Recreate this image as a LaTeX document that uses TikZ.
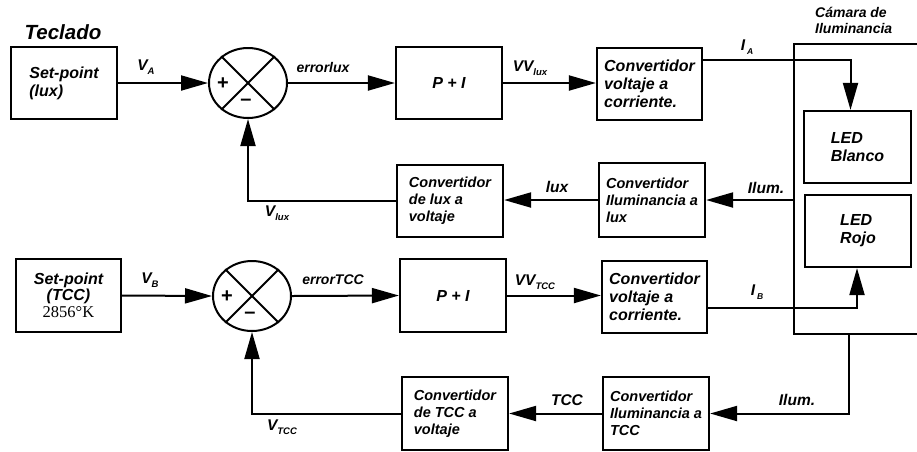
\documentclass[tikz,border=0pt]{standalone}
\usepackage{fontspec}
\setmainfont{Liberation Sans}
\newfontfamily\serifnum{Liberation Serif}
\usetikzlibrary{arrows.meta,shapes.geometric}

% subscript set lower and smaller, as in the labels of the loop signals
\newcommand\lsub[1]{\raisebox{-3.5pt}{\fontsize{9.5}{9.5}\selectfont #1}}

\tikzset{
  blk/.style={draw, line width=2.2pt, align=left, inner sep=0pt,
    font=\bfseries\itshape\fontsize{16}{18}\selectfont},
  blks/.style={blk, font=\bfseries\itshape\fontsize{14.5}{17}\selectfont},
  sumj/.style={draw, ellipse, line width=2pt, inner sep=0pt,
    minimum width=78pt, minimum height=70pt},
  sgn/.style={font=\bfseries\fontsize{20}{20}\selectfont, inner sep=0pt},
  wire/.style={line width=2pt},
  arr/.style={wire, -{Triangle[length=27pt,width=15pt]}},
  lbl/.style={inner sep=0pt, font=\bfseries\itshape\fontsize{15.5}{17}\selectfont},
  lbls/.style={inner sep=0pt, font=\bfseries\itshape\fontsize{14}{16}\selectfont},
}

\begin{document}
\begin{tikzpicture}[x=1pt, y=-1pt]
\useasboundingbox (0,0) rectangle (917,451);

% ---------- lux loop ----------
\node[lbl, font=\bfseries\itshape\fontsize{20.5}{24}\selectfont] (tec) at (63,32) {Teclado};
\node[blk, minimum width=106pt, minimum height=72pt] (spA) at (64,83) {Set-point\\(lux)};
\node[sumj] (sA) at (248,83) {};
\draw[wire] (sA.135) -- (sA.-45);
\draw[wire] (sA.45) -- (sA.-135);
\node[sgn] (pA) at (223,84) {+};
\node[sgn] (mA) at (246,102) {--};
\node[blk, minimum width=106pt, minimum height=72pt, align=center] (piA) at (449,83) {P + I};
\node[blk, minimum width=105pt, minimum height=72pt] (cvA) at (649.5,84) {Convertidor\\voltaje a\\corriente.};

\node[draw, line width=2.2pt, anchor=north west, minimum width=140pt, minimum height=290pt] (cam) at (793,43) {};
\node[lbls, align=left, anchor=west] (camt) at (815,20) {Cámara de\\Iluminancia};
\node[blk, minimum width=107pt, minimum height=72pt] (ledb) at (857.5,147) {LED\\Blanco};
\node[blk, minimum width=106pt, minimum height=72pt] (ledr) at (858,231) {LED\\Rojo};

\node[blks, minimum width=106pt, minimum height=74pt] (ilA) at (652,200) {Convertidor\\Iluminancia a\\lux};
\node[blks, minimum width=106pt, minimum height=72pt] (lvA) at (450,201) {Convertidor\\de lux a\\voltaje};

\draw[arr] (spA.east) -- (sA.west);
\draw[arr] (sA.east) -- (piA.west);
\draw[arr] (piA.east) -- (piA.east -| cvA.west);
\draw[arr] ([yshift=24pt]cvA.east) -| ([xshift=-7pt]ledb.north);
\draw[arr] (cam.west |- ilA.east) -- (ilA.east);
\draw[arr] (ilA.west) -- (ilA.west -| lvA.east);
\draw[arr] (lvA.west) -| (sA.south);

\node[lbl] (lVA) at (146,67) {V\lsub{A}};
\node[lbls] (lerrA) at (323,67) {errorlux};
\node[lbl] (lVVA) at (530,68) {VV\lsub{lux}};
\node[lbl] (lIA) at (747,47) {I\hspace{2pt}\lsub{\fontsize{8.5}{8.5}\selectfont A}};
\node[lbl] (llux) at (557,187) {lux};
\node[lbl] (lilA) at (766,188) {Ilum.};
\node[lbl] (lVlux) at (277,213) {V\lsub{lux}};

% ---------- TCC loop ----------
\node[blk, minimum width=105pt, minimum height=73pt, align=center] (spB) at (68.5,295.5)
  {Set-point\\[-2pt](TCC)\\[-1pt]{\serifnum\mdseries\upshape\fontsize{16.5}{18}\selectfont 2856°K}};
\node[sumj] (sB) at (252,296) {};
\draw[wire] (sB.135) -- (sB.-45);
\draw[wire] (sB.45) -- (sB.-135);
\node[sgn] (pB) at (227,297) {+};
\node[sgn] (mB) at (250,315) {--};
\node[blk, minimum width=106pt, minimum height=73pt, align=center] (piB) at (453,295.5) {P + I};
\node[blk, minimum width=105pt, minimum height=72pt] (cvB) at (654.5,297) {Convertidor\\voltaje a\\corriente.};

\node[blks, minimum width=106pt, minimum height=73pt] (ilB) at (656,413.5) {Convertidor\\Iluminancia a\\TCC};
\node[blks, minimum width=106pt, minimum height=73pt] (tvB) at (455,413.5) {Convertidor\\de TCC a\\voltaje};

\coordinate (camout) at ([xshift=56pt]cam.south west);

\draw[arr] (spB.east) -- (sB.west);
\draw[arr] (sB.east) -- (piB.west);
\draw[arr] (piB.east) -- (piB.east -| cvB.west);
\draw[arr] ([yshift=-11pt]cvB.east) -| ([xshift=-1pt]ledr.south);
\draw[arr] (camout) |- (ilB.east);
\draw[arr] (ilB.west) -- (tvB.east);
\draw[arr] (tvB.west) -| (sB.south);

\node[lbl] (lVB) at (150,280) {V\lsub{B}};
\node[lbls] (lerrB) at (333,280) {errorTCC};
\node[lbl] (lVVB) at (535,282) {VV\lsub{TCC}};
\node[lbl] (lIB) at (757,292) {I\hspace{2pt}\lsub{\fontsize{8.5}{8.5}\selectfont B}};
\node[lbl] (lilB) at (797,400) {Ilum.};
\node[lbl] (ltcc) at (567,400) {TCC};
\node[lbl] (lVtcc) at (282,427) {V\lsub{TCC}};
\end{tikzpicture}
\end{document}
